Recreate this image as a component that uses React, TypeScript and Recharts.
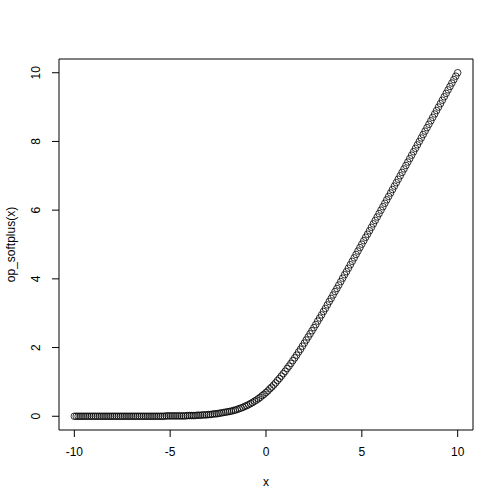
import { ScatterChart, Scatter, XAxis, YAxis, ReferenceArea } from "recharts";

const xValues = [
  -10.0, -9.9, -9.8, -9.7, -9.6, -9.5, -9.4, -9.3, -9.2, -9.1,
  -9.0, -8.9, -8.8, -8.7, -8.6, -8.5, -8.4, -8.3, -8.2, -8.1,
  -8.0, -7.9, -7.8, -7.7, -7.6, -7.5, -7.4, -7.3, -7.2, -7.1,
  -7.0, -6.9, -6.8, -6.7, -6.6, -6.5, -6.4, -6.3, -6.2, -6.1,
  -6.0, -5.9, -5.8, -5.7, -5.6, -5.5, -5.4, -5.3, -5.2, -5.1,
  -5.0, -4.9, -4.8, -4.7, -4.6, -4.5, -4.4, -4.3, -4.2, -4.1,
  -4.0, -3.9, -3.8, -3.7, -3.6, -3.5, -3.4, -3.3, -3.2, -3.1,
  -3.0, -2.9, -2.8, -2.7, -2.6, -2.5, -2.4, -2.3, -2.2, -2.1,
  -2.0, -1.9, -1.8, -1.7, -1.6, -1.5, -1.4, -1.3, -1.2, -1.1,
  -1.0, -0.9, -0.8, -0.7, -0.6, -0.5, -0.4, -0.3, -0.2, -0.1,
  0.0, 0.1, 0.2, 0.3, 0.4, 0.5, 0.6, 0.7, 0.8, 0.9,
  1.0, 1.1, 1.2, 1.3, 1.4, 1.5, 1.6, 1.7, 1.8, 1.9,
  2.0, 2.1, 2.2, 2.3, 2.4, 2.5, 2.6, 2.7, 2.8, 2.9,
  3.0, 3.1, 3.2, 3.3, 3.4, 3.5, 3.6, 3.7, 3.8, 3.9,
  4.0, 4.1, 4.2, 4.3, 4.4, 4.5, 4.6, 4.7, 4.8, 4.9,
  5.0, 5.1, 5.2, 5.3, 5.4, 5.5, 5.6, 5.7, 5.8, 5.9,
  6.0, 6.1, 6.2, 6.3, 6.4, 6.5, 6.6, 6.7, 6.8, 6.9,
  7.0, 7.1, 7.2, 7.3, 7.4, 7.5, 7.6, 7.7, 7.8, 7.9,
  8.0, 8.1, 8.2, 8.3, 8.4, 8.5, 8.6, 8.7, 8.8, 8.9,
  9.0, 9.1, 9.2, 9.3, 9.4, 9.5, 9.6, 9.7, 9.8, 9.9,
  10.0,
];

const yValues = [
  0, 0, 0, 0, 0, 0, 0, 0, 0, 0,
  0, 0, 0, 0, 0, 0, 0, 0, 0, 0,
  0, 0, 0, 0, 0, 0, 0, 0, 0, 0,
  0, 0, 0, 0, 0, 0, 0, 0, 0, 0,
  0, 0, 0, 0, 0, 0, 0, 0, 0.01, 0.01,
  0.01, 0.01, 0.01, 0.01, 0.01, 0.01, 0.01, 0.01, 0.01, 0.02,
  0.02, 0.02, 0.02, 0.02, 0.03, 0.03, 0.03, 0.04, 0.04, 0.04,
  0.05, 0.05, 0.06, 0.07, 0.07, 0.08, 0.09, 0.1, 0.11, 0.12,
  0.13, 0.14, 0.15, 0.17, 0.18, 0.2, 0.22, 0.24, 0.26, 0.29,
  0.31, 0.34, 0.37, 0.4, 0.44, 0.47, 0.51, 0.55, 0.6, 0.64,
  0.69, 0.74, 0.8, 0.85, 0.91, 0.97, 1.04, 1.1, 1.17, 1.24,
  1.31, 1.39, 1.46, 1.54, 1.62, 1.7, 1.78, 1.87, 1.95, 2.04,
  2.13, 2.22, 2.31, 2.4, 2.49, 2.58, 2.67, 2.77, 2.86, 2.95,
  3.05, 3.14, 3.24, 3.34, 3.43, 3.53, 3.63, 3.72, 3.82, 3.92,
  4.02, 4.12, 4.21, 4.31, 4.41, 4.51, 4.61, 4.71, 4.81, 4.91,
  5.01, 5.11, 5.21, 5.3, 5.4, 5.5, 5.6, 5.7, 5.8, 5.9,
  6.0, 6.1, 6.2, 6.3, 6.4, 6.5, 6.6, 6.7, 6.8, 6.9,
  7.0, 7.1, 7.2, 7.3, 7.4, 7.5, 7.6, 7.7, 7.8, 7.9,
  8.0, 8.1, 8.2, 8.3, 8.4, 8.5, 8.6, 8.7, 8.8, 8.9,
  9.0, 9.1, 9.2, 9.3, 9.4, 9.5, 9.6, 9.7, 9.8, 9.9,
  10.0,
];

const xTicks = [-10, -5, 0, 5, 10];
const yTicks = [0, 2, 4, 6, 8, 10];

const FONT = "'Liberation Sans', Arial, Helvetica, sans-serif";

const points = xValues.map((x, i) => ({ x, y: yValues[i] }));

function XTick(props: any) {
  const { x, payload } = props;
  return (
    <text x={x} y={456} textAnchor="middle" fontFamily={FONT} fontSize={12} fill="#000">
      {payload.value}
    </text>
  );
}

function YTick(props: any) {
  const { y, payload } = props;
  return (
    <text
      x={40}
      y={y}
      transform={`rotate(-90, 40, ${y})`}
      textAnchor="middle"
      fontFamily={FONT}
      fontSize={12}
      fill="#000"
    >
      {payload.value}
    </text>
  );
}

function XTitle(props: any) {
  const { viewBox } = props;
  return (
    <text x={viewBox.x + viewBox.width / 2} y={486} textAnchor="middle" fontFamily={FONT} fontSize={12} fill="#000">
      x
    </text>
  );
}

function YTitle(props: any) {
  const { viewBox } = props;
  const cy = viewBox.y + viewBox.height / 2;
  return (
    <text x={15} y={cy} transform={`rotate(-90, 15, ${cy})`} textAnchor="middle" fontFamily={FONT} fontSize={12} fill="#000">
      op_softplus(x)
    </text>
  );
}

function OpenCircle(props: any) {
  const { cx, cy } = props;
  return <circle cx={cx} cy={cy} r={3.3} fill="none" stroke="#000" strokeWidth={0.8} />;
}

export default function App() {
  return (
    <div style={{ position: "absolute", left: 0, top: 0, width: 504, height: 504, background: "#fff" }}>
      <ScatterChart width={504} height={504} margin={{ top: 59, right: 31, left: 0, bottom: 0 }}>
        <XAxis
          type="number"
          dataKey="x"
          domain={[-10.8, 10.8]}
          ticks={xTicks}
          allowDataOverflow
          height={74}
          axisLine={false}
          tickLine={{ stroke: "#000" }}
          tickSize={7}
          tick={<XTick />}
          label={{ content: XTitle }}
        />
        <YAxis
          type="number"
          dataKey="y"
          domain={[-0.4, 10.4]}
          ticks={yTicks}
          allowDataOverflow
          width={59}
          axisLine={false}
          tickLine={{ stroke: "#000" }}
          tickSize={7}
          tick={<YTick />}
          label={{ content: YTitle }}
        />
        <ReferenceArea x1={-10.8} x2={10.8} y1={-0.4} y2={10.4} fill="none" stroke="#000" strokeWidth={1} />
        <Scatter data={points} shape={<OpenCircle />} isAnimationActive={false} />
      </ScatterChart>
    </div>
  );
}
